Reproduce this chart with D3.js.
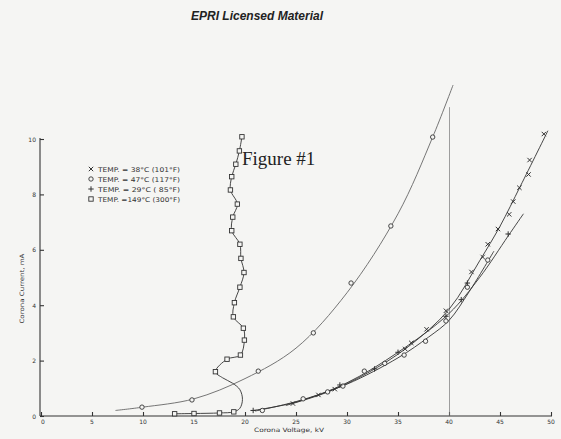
<!DOCTYPE html>
<html>
<head>
<meta charset="utf-8">
<script src="https://cdn.jsdelivr.net/npm/d3@7/dist/d3.min.js"></script>
<style>
  body { margin: 0; background: #f5f5f3; }
  svg { display: block; }
</style>
</head>
<body>
<div id="chart"></div>
<script>
// Corona current vs corona voltage
// points are [kV, mA]

const xTicks = [0, 5, 10, 15, 20, 25, 30, 35, 40, 45, 50];
const yTicks = [0, 2, 4, 6, 8, 10];

const legendSymbols = ["x", "o", "+", "s"];
const legendLabels = [
  "TEMP. = 38°C (101°F)",
  "TEMP. = 47°C (117°F)",
  "TEMP. = 29°C ( 85°F)",
  "TEMP. =149°C (300°F)"
];

// x : 38°C
const pts38 = [[24.7, 0.45], [27.2, 0.76], [28.8, 0.97], [35.7, 2.42], [36.3, 2.64], [37.8, 3.13],
  [39.7, 3.8], [42.2, 5.2], [43.3, 5.74], [43.8, 6.2], [44.8, 6.75], [45.9, 7.28], [46.3, 7.74],
  [46.9, 8.24], [47.8, 8.72], [47.9, 9.24], [49.3, 10.18]];
const fit38 = [[24, 0.38], [28, 0.85], [32, 1.55], [36, 2.5], [40, 3.85], [43, 5.6], [45, 6.85],
  [47, 8.3], [49.7, 10.3]];

// o : 47°C (lower curve)
const pts47 = [[21.7, 0.2], [25.7, 0.62], [28.1, 0.87], [29.6, 1.08], [31.7, 1.62], [33.7, 1.9],
  [35.6, 2.2], [37.7, 2.7], [39.7, 3.43], [41.8, 4.65], [43.8, 5.63]];
const fit47 = [[21, 0.18], [25, 0.52], [30, 1.15], [35, 2.1], [38, 2.85], [40, 3.45], [42, 4.5],
  [44.4, 5.95]];

// + : 29°C
const pts29 = [[20.8, 0.2], [29.3, 1.12], [32.7, 1.7], [35.0, 2.3], [39.7, 3.6], [41.2, 4.2],
  [41.8, 4.8], [45.8, 6.57]];
const fit29 = [[20.8, 0.2], [25, 0.5], [30, 1.2], [35, 2.3], [40, 3.7], [43, 5.0], [45.8, 6.5],
  [47.3, 7.3]];

// upper-left circle curve
const ptsUpper = [[9.9, 0.32], [14.8, 0.58], [21.3, 1.62], [26.7, 3.0], [30.4, 4.8], [34.3, 6.86],
  [38.4, 10.07]];
const fitUpper = [[7.3, 0.2], [10, 0.32], [15, 0.62], [20, 1.35], [25, 2.45], [30, 4.45],
  [35, 7.3], [38.4, 10.07], [40.4, 11.95]];

// squares : 149°C
const sqBottom = [[13.1, 0.08], [15.0, 0.09], [17.5, 0.11], [18.9, 0.15]];
const sqLoop = [[19.5, 0.28], [19.75, 0.6], [19.5, 0.95], [18.8, 1.18], [17.8, 1.38]];
const sqUpper = [[17.1, 1.6], [18.24, 2.05], [19.55, 2.2], [19.94, 2.74], [19.84, 3.17],
  [18.86, 3.58], [18.96, 4.09], [19.5, 4.65], [19.9, 5.18], [19.6, 5.69], [19.5, 6.2],
  [18.7, 6.69], [18.8, 7.18], [19.25, 7.65], [18.57, 8.16], [18.7, 8.64], [19.1, 9.09],
  [19.45, 9.57], [19.7, 10.08]];

// vertical reference line at 40 kV
const refLine = [[40, 0], [40, 11.15]];

// ---------- layout ----------
const W = 561, H = 439;
const ink = "#333";
const paper = "#f5f5f3";

const svg = d3.select("#chart").append("svg")
  .attr("width", W)
  .attr("height", H);

const x = d3.scaleLinear().domain([0, 50]).range([41, 551]);
const y = d3.scaleLinear().domain([0, 10]).range([416, 139]);

const line = d3.line()
  .x(d => x(d[0]))
  .y(d => y(d[1]))
  .curve(d3.curveCatmullRom.alpha(0.5));

// header
svg.append("text")
  .attr("x", 257)
  .attr("y", 20)
  .attr("text-anchor", "middle")
  .style("font-family", "Liberation Sans, Arial, sans-serif")
  .style("font-size", "12px")
  .style("font-weight", "700")
  .style("font-style", "italic")
  .style("fill", "#222")
  .text("EPRI Licensed Material");

// axes (ticks point inward)
svg.append("g")
  .attr("transform", `translate(0,${y(0)})`)
  .call(d3.axisTop(x).tickValues(xTicks).tickSize(4).tickFormat(""))
  .call(g => g.select(".domain").attr("d", `M${x(0) - 1},0H${x(50) + 1}`))
  .call(g => g.selectAll("line,path").attr("stroke", ink).attr("stroke-width", 1.1));

svg.append("g")
  .attr("transform", `translate(${x(0) - 1},0)`)
  .call(d3.axisRight(y).tickValues(yTicks).tickSize(4).tickFormat(""))
  .call(g => g.select(".domain").attr("d", `M0,${y(0)}V${y(10) - 1}`))
  .call(g => g.selectAll("line,path").attr("stroke", ink).attr("stroke-width", 1.1));

const labelFont = "DejaVu Sans, sans-serif";

svg.append("g").selectAll("text")
  .data(xTicks)
  .join("text")
  .attr("x", d => x(d) + (d === 0 ? 2 : 0))
  .attr("y", y(0) + 7.5)
  .attr("text-anchor", "middle")
  .style("font-family", labelFont)
  .style("font-size", "6px")
  .style("fill", ink)
  .text(d => d);

svg.append("g").selectAll("text")
  .data(yTicks)
  .join("text")
  .attr("x", x(0) - 5)
  .attr("y", d => y(d) + 2.5)
  .attr("text-anchor", "end")
  .style("font-family", labelFont)
  .style("font-size", "6px")
  .style("fill", ink)
  .text(d => d);

// axis titles
svg.append("text")
  .attr("x", 289)
  .attr("y", 432)
  .attr("text-anchor", "middle")
  .attr("textLength", 70)
  .attr("lengthAdjust", "spacingAndGlyphs")
  .style("font-family", labelFont)
  .style("font-size", "6px")
  .style("fill", ink)
  .text("Corona Voltage, kV");

svg.append("text")
  .attr("transform", `translate(24,${y(4.6)}) rotate(-90)`)
  .attr("text-anchor", "middle")
  .attr("textLength", 70)
  .attr("lengthAdjust", "spacingAndGlyphs")
  .style("font-family", labelFont)
  .style("font-size", "6px")
  .style("fill", ink)
  .text("Corona Current, mA");

// figure caption
svg.append("text")
  .attr("x", 242)
  .attr("y", 165)
  .style("font-family", "Liberation Serif, Times New Roman, serif")
  .style("font-size", "19px")
  .style("fill", "#222")
  .text("Figure #1");

// reference line (thin, pixel aligned)
svg.append("path")
  .attr("d", d3.line().x(d => Math.round(x(d[0])) + 0.5).y(d => y(d[1]))(refLine))
  .attr("fill", "none")
  .attr("stroke", "#777")
  .attr("stroke-width", 0.7);

// curves
const curves = [
  { data: fitUpper, color: "#666" },
  { data: fit47, color: ink },
  { data: fit29, color: ink },
  { data: fit38, color: ink },
  { data: sqBottom.concat(sqLoop, sqUpper), color: ink }
];

svg.append("g").selectAll("path")
  .data(curves)
  .join("path")
  .attr("d", d => line(d.data))
  .attr("fill", "none")
  .attr("stroke", d => d.color)
  .attr("stroke-width", 0.9);

// markers
function drawMarker(sel, kind, cx, cy) {
  const s = 2.2;
  if (kind === "o") {
    sel.append("circle").attr("cx", cx).attr("cy", cy).attr("r", s)
      .attr("fill", paper).attr("stroke", ink).attr("stroke-width", 0.9);
  } else if (kind === "s") {
    sel.append("rect").attr("x", cx - s).attr("y", cy - s).attr("width", 2 * s).attr("height", 2 * s)
      .attr("fill", paper).attr("stroke", ink).attr("stroke-width", 0.9);
  } else if (kind === "x") {
    sel.append("path")
      .attr("d", `M${cx - s},${cy - s}L${cx + s},${cy + s}M${cx - s},${cy + s}L${cx + s},${cy - s}`)
      .attr("stroke", ink).attr("stroke-width", 1);
  } else {
    sel.append("path")
      .attr("d", `M${cx - s - 0.5},${cy}H${cx + s + 0.5}M${cx},${cy - s - 0.5}V${cy + s + 0.5}`)
      .attr("stroke", ink).attr("stroke-width", 1);
  }
}

const markerSets = [
  { pts: ptsUpper, kind: "o" },
  { pts: pts47, kind: "o" },
  { pts: pts29, kind: "+" },
  { pts: pts38, kind: "x" },
  { pts: sqBottom.concat(sqUpper), kind: "s" }
];

const mg = svg.append("g");
markerSets.forEach(set => {
  set.pts.forEach(p => drawMarker(mg, set.kind, x(p[0]), y(p[1])));
});

// legend
const lg = svg.append("g");
legendLabels.forEach((label, i) => {
  const ly = 169 + i * 10;
  drawMarker(lg, legendSymbols[i], 91, ly);
  lg.append("text")
    .attr("x", 98)
    .attr("y", ly + 2.5)
    .attr("textLength", 82)
    .attr("lengthAdjust", "spacingAndGlyphs")
    .style("font-family", labelFont)
    .style("font-size", "6.5px")
    .style("fill", ink)
    .text(label);
});
</script>
</body>
</html>
